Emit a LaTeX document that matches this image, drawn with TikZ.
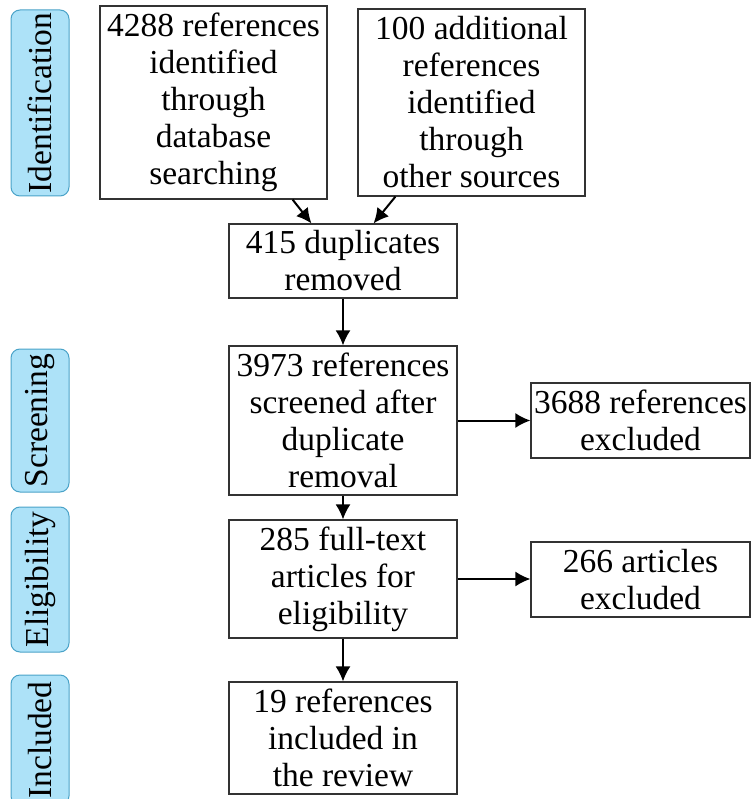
\documentclass[tikz,border=0pt]{standalone}
\usepackage{fontspec}
\setmainfont{Liberation Serif}
\usetikzlibrary{arrows.meta,calc}
\definecolor{lblfill}{HTML}{ADE2F8}
\definecolor{lbldraw}{HTML}{4AA3C8}
\definecolor{boxdraw}{HTML}{333333}
\begin{document}
\begin{tikzpicture}[x=1pt,y=-1pt,
  every node/.style={font=\fontsize{33.5}{37}\selectfont},
  flowbox/.style={draw=boxdraw,line width=1.1pt,inner sep=0pt,align=center},
  stage/.style={draw=lbldraw,fill=lblfill,line width=1pt,rounded corners=9pt,inner sep=0pt},
  stagetext/.style={rotate=90,inner sep=0pt},
  arr/.style={-{Latex[length=15pt,width=15pt]},line width=2pt,black}]
\useasboundingbox (0,0) rectangle (751,799);
\clip (0,0) rectangle (751,799);
% stage labels
\node[stage,minimum width=58pt,minimum height=186pt] (sI) at (40,103) {};
\node[stagetext] (tI) at (sI.center) {Identification};
\node[stage,minimum width=58pt,minimum height=143pt] (sS) at (40,420.5) {};
\node[stagetext] (tS) at (sS.center) {Screening};
\node[stage,minimum width=58pt,minimum height=145pt] (sE) at (40,579.5) {};
\node[stagetext] (tE) at (sE.center) {Eligibility};
\node[stage,minimum width=58pt,minimum height=130pt] (sN) at (40,740) {};
\node[stagetext] (tN) at (sN.center) {Included};
% boxes
\node[flowbox,minimum width=227pt,minimum height=193pt] (A) at (213.5,102.5) {4288 references\\identified\\through\\database\\searching};
\node[flowbox,minimum width=227pt,minimum height=187pt] (B) at (471.5,102.5) {100 additional\\references\\identified\\through\\other sources};
\node[flowbox,minimum width=228pt,minimum height=74pt] (C) at (343,261) {415 duplicates\\removed};
\node[flowbox,minimum width=228pt,minimum height=149pt] (D) at (343,420.5) {3973 references\\screened after\\duplicate\\removal};
\node[flowbox,minimum width=228pt,minimum height=118pt] (E) at (343,579) {285 full-text\\articles for\\eligibility};
\node[flowbox,minimum width=228pt,minimum height=112pt] (F) at (343,738) {19 references\\included in\\the review};
\node[flowbox,minimum width=219pt,minimum height=75pt] (G) at (640.5,420.5) {3688 references\\excluded};
\node[flowbox,minimum width=219pt,minimum height=75pt] (H) at (640.5,579.5) {266 articles\\excluded};
% connectors
\draw[arr] ([xshift=-35pt]A.south east) -- ([xshift=83pt]C.north west);
\draw[arr] ([xshift=38pt]B.south west) -- ([xshift=-84pt]C.north east);
\draw[arr] (C.south) -- (D.north);
\draw[arr] (D.south) -- (E.north);
\draw[arr] (E.south) -- (F.north);
\draw[arr] (D.east) -- (D.east -| G.west);
\draw[arr] (E.east) -- (E.east -| H.west);
\end{tikzpicture}
\end{document}
